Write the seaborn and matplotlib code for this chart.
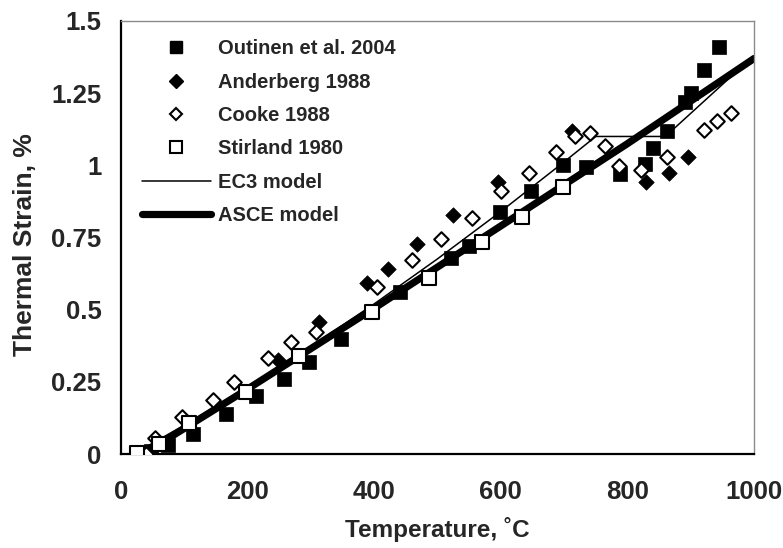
import matplotlib
matplotlib.use("Agg")
import matplotlib.pyplot as plt
import seaborn as sns
import pandas as pd
from matplotlib.lines import Line2D

# Measured thermal strain (%) vs temperature (°C)
outinen_T = [48, 75, 114, 166, 214, 258, 297, 348, 441, 522, 549, 599, 647, 699,
             735, 788, 828, 840, 862, 891, 901, 921, 945]
outinen_S = [0.01, 0.03, 0.07, 0.14, 0.20, 0.26, 0.32, 0.40, 0.56, 0.68, 0.72, 0.84,
             0.91, 1.00, 0.995, 0.97, 1.005, 1.06, 1.12, 1.22, 1.25, 1.33, 1.41]

anderberg_T = [248, 313, 388, 422, 468, 525, 595, 712, 830, 865, 896]
anderberg_S = [0.325, 0.458, 0.591, 0.641, 0.728, 0.828, 0.943, 1.12, 0.943, 0.972, 1.03]

cooke_T = [40, 53, 97, 145, 178, 233, 269, 308, 405, 459, 506, 554, 600, 645,
           687, 717, 741, 765, 787, 821, 862, 921, 941, 963]
cooke_S = [0.0, 0.057, 0.128, 0.188, 0.249, 0.331, 0.389, 0.424, 0.58, 0.673,
           0.744, 0.816, 0.91, 0.975, 1.046, 1.10, 1.112, 1.067, 0.999, 0.984,
           1.03, 1.122, 1.155, 1.182]

stirland_T = [25, 60, 107, 197, 282, 396, 486, 570, 633, 699]
stirland_S = [0.005, 0.036, 0.106, 0.216, 0.338, 0.493, 0.609, 0.735, 0.822, 0.926]

# Model curves
ec3_T = [20, 100, 200, 300, 400, 500, 600, 700, 750, 860, 1000]
ec3_S = [0.0, 0.10, 0.232, 0.372, 0.52, 0.676, 0.84, 1.012, 1.10, 1.10, 1.38]

asce_T = [35, 200, 400, 600, 800, 1000]
asce_S = [0.0, 0.225, 0.505, 0.79, 1.075, 1.37]

x_ticks = [0, 200, 400, 600, 800, 1000]
y_ticks = [0, 0.25, 0.5, 0.75, 1.0, 1.25, 1.5]
y_tick_labels = ["0", "0.25", "0.5", "0.75", "1", "1.25", "1.5"]

sns.set_style("white")
plt.rcParams["font.family"] = ["Liberation Sans", "DejaVu Sans"]
plt.rcParams["font.weight"] = "bold"

fig = plt.figure(figsize=(7.83, 5.48), dpi=100)
ax = fig.add_axes([0.1545, 0.1715, 0.8085, 0.7902])

asce_df = pd.DataFrame({"T": asce_T, "S": asce_S})
ec3_df = pd.DataFrame({"T": ec3_T, "S": ec3_S})
sns.lineplot(data=asce_df, x="T", y="S", ax=ax, color="black", lw=5.2,
             sort=False, estimator=None, solid_capstyle="round")
sns.lineplot(data=ec3_df, x="T", y="S", ax=ax, color="black", lw=1.1,
             sort=False, estimator=None)

sns.scatterplot(x=outinen_T, y=outinen_S, ax=ax, marker="s", s=110,
                color="black", edgecolor="black", linewidth=0.5, zorder=3)
sns.scatterplot(x=anderberg_T, y=anderberg_S, ax=ax, marker="D", s=62,
                color="black", edgecolor="black", linewidth=0.5, zorder=3)
sns.scatterplot(x=cooke_T, y=cooke_S, ax=ax, marker="D", s=55,
                facecolor="white", edgecolor="black", linewidth=1.5, zorder=4)
sns.scatterplot(x=stirland_T, y=stirland_S, ax=ax, marker="s", s=100,
                facecolor="white", edgecolor="black", linewidth=1.5, zorder=4)

ax.set_xlim(0, 1000)
ax.set_ylim(0, 1.5)
ax.set_xticks(x_ticks)
ax.set_xticklabels([str(v) for v in x_ticks])
ax.set_yticks(y_ticks)
ax.set_yticklabels(y_tick_labels)
ax.tick_params(axis="both", direction="out", length=6, width=1.3, color="black",
               labelsize=18.5)
ax.tick_params(axis="x", pad=13)
ax.tick_params(axis="y", pad=8)
for lab in ax.get_xticklabels() + ax.get_yticklabels():
    lab.set_fontweight("bold")

for side in ("left", "bottom"):
    ax.spines[side].set_color("black")
    ax.spines[side].set_linewidth(1.6)
for side in ("top", "right"):
    ax.spines[side].set_color("#8a8a8a")
    ax.spines[side].set_linewidth(1.0)

ax.set_xlabel("Temperature, ˚C", fontsize=17.5, fontweight="bold")
ax.set_ylabel("Thermal Strain, %", fontsize=19, fontweight="bold")
ax.xaxis.set_label_coords(0.5, -0.145)
ax.yaxis.set_label_coords(-0.133, 0.483)

handles = [
    Line2D([], [], ls="none", marker="s", ms=9, mfc="black", mec="black"),
    Line2D([], [], ls="none", marker="D", ms=7, mfc="black", mec="black"),
    Line2D([], [], ls="none", marker="D", ms=6.5, mfc="white", mec="black", mew=1.5),
    Line2D([], [], ls="none", marker="s", ms=8.5, mfc="white", mec="black", mew=1.5),
    Line2D([], [], color="black", lw=1.1),
    Line2D([], [], color="black", lw=5.2),
]
labels = ["Outinen et al. 2004", "Anderberg 1988", "Cooke 1988", "Stirland 1980",
          "EC3 model", "ASCE model"]
leg = ax.legend(handles, labels, loc="upper left", bbox_to_anchor=(0.0105, 0.99),
                frameon=False, handlelength=3.45, handletextpad=0.36,
                labelspacing=0.71, borderaxespad=0.3,
                prop={"size": 14.5, "weight": "bold"})

fig.savefig("out.png", dpi=100)
